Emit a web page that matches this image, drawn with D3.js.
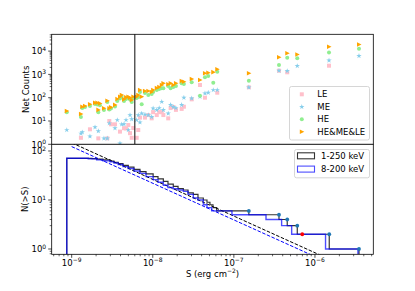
<!DOCTYPE html>
<html>
<head>
<meta charset="utf-8">
<script src="https://cdn.jsdelivr.net/npm/d3@7"></script>
<style>
  body { margin: 0; background: #fff; }
  svg { display: block; font-family: "DejaVu Sans", sans-serif; }
</style>
</head>
<body>
<svg id="chart" width="415" height="291"></svg>
<script>
// burst fluence (erg cm^-2) and net counts per band (null = not detected)
const fluence = [8.7e-10, 1.30e-9, 1.35e-9, 1.46e-9, 1.68e-9, 1.94e-9, 2.07e-9, 2.13e-9, 2.23e-9, 2.50e-9,
  2.75e-9, 2.91e-9, 3.05e-9, 3.42e-9, 3.65e-9, 3.94e-9, 4.14e-9, 4.42e-9, 4.68e-9, 4.99e-9,
  5.24e-9, 5.50e-9, 5.75e-9, 6.33e-9, 6.62e-9, 6.95e-9, 7.30e-9, 8.01e-9, 8.81e-9, 9.69e-9,
  1.01e-8, 1.12e-8, 1.20e-8, 1.29e-8, 1.35e-8, 1.55e-8, 1.66e-8, 1.79e-8, 1.93e-8, 2.27e-8,
  2.42e-8, 3.02e-8, 3.82e-8, 4.40e-8, 4.83e-8, 5.57e-8, 6.24e-8, 1.53e-7, 3.60e-7, 4.55e-7,
  6.05e-7, 1.49e-6, 3.49e-6];
const countsLE = [null, 1.9, null, null, 4.4, null, null, 1.8, null, null,
  1.8, 10, 7.2, 7.2, null, 3.5, null, 4.9, 4.8, 6.7,
  3.0, 1.9, 5.0, 1.9, 4.1, 14, null, 14, 18, 13,
  24, 18, 24, 24, 18, 13, 36, 40, 30, 33,
  41, 85, 351, 100, null, null, 164, 279, 1442, 1230,
  null, 2362, null];
const countsME = [4.1, 2.9, 3.3, null, 2.2, 5.4, null, 3.7, null, 1.8,
  1.8, 8, null, 4.9, 11, 1.1, 7.2, 7.4, 11, 4.1,
  18, 12, null, 11, 18, 8.8, 21, 19, 18, 15,
  35, 30, 36, 67, 30, 21, 49, 40, 36, 49,
  100, 94, 110, 154, 164, 214, 214, 279, 1442, 1400,
  2295, 3970, 6200];
const countsHE = [24, 15, 36, 40, 44, 53, 51, 24, 48, 30,
  65, 31, 34, 42, 72, 92, 107, 72, 88, 97,
  84, 65, 97, 97, 107, 175, 52, 160, 130, 145,
  175, 214, 237, 253, 253, 316, 253, 290, 316, 415,
  390, 458, 122, 751, 854, 440, 1306, 537, 2530, 5210,
  4910, 8700, 12700];
const countsAll = [27, 20, 41, 44, 52, 61, 61, 30, 57, 35,
  74, 35, 39, 49, 88, 110, 131, 85, 104, 110,
  100, 80, 110, 110, 131, 214, 110, 195, 195, 175,
  214, 260, 290, 351, 415, 376, 415, 351, 415, 521,
  486, 635, 575, 1115, 1183, 1250, 1655, 1115, 5420, 8050,
  7100, 15450, 19200];
const cutFluence = 6.0e-9;

// cumulative N(>S): level N[i] holds from S[i] to S[i+1]
const stepAllS = [8.7e-10, 1.78e-9, 2.03e-9, 2.43e-9, 2.97e-9, 3.32e-9, 3.75e-9, 4.29e-9, 4.99e-9, 5.86e-9,
  6.95e-9, 8.25e-9, 1.01e-8, 1.16e-8, 1.35e-8, 1.54e-8, 1.79e-8, 2.05e-8, 2.38e-8, 2.72e-8,
  3.16e-8, 3.61e-8, 4.20e-8, 4.66e-8, 5.07e-8, 5.53e-8, 6.14e-8, 1.53e-7, 3.60e-7, 4.55e-7,
  6.05e-7, 1.50e-6, 3.49e-6];
const stepAllN = [71, 70, 68, 66, 62, 59, 55, 51, 47, 42,
  38, 34, 30, 27, 24, 21, 19, 17, 16, 14,
  13, 11, 10, 9, 8, 7, 6, 5, 4, 3,
  2, 1, 0];
const stepHighS = [8.7e-10, 1.60e-9, 2.03e-9, 2.43e-9, 2.97e-9, 3.32e-9, 3.75e-9, 4.29e-9, 4.99e-9, 5.86e-9,
  6.95e-9, 8.25e-9, 1.01e-8, 1.16e-8, 1.35e-8, 1.54e-8, 1.79e-8, 2.05e-8, 2.38e-8, 2.72e-8,
  3.16e-8, 3.61e-8, 4.20e-8, 4.66e-8, 5.32e-8, 9.47e-8, 2.49e-7, 3.88e-7, 5.16e-7, 1.35e-6,
  3.39e-6];
const stepHighN = [71, 69, 66, 63, 60, 57, 53, 48, 44, 39,
  35, 30, 26, 23, 20, 18, 17, 16, 15, 13,
  11, 10, 8, 7, 6, 5, 4, 3, 2, 1,
  0];
const brightS = [1.53e-7, 3.60e-7, 4.55e-7, 6.05e-7, 1.50e-6, 3.49e-6];
const brightN = [6, 5, 4, 3, 2, 1];
const markedS = [6.97e-7];
const markedN = [2];

// power-law fits (dashed)
const fitS = [1e-9, 5e-6];
const fitAllN = [147, 0.252];
const fitHighN = [123, 0.21];

const xTicks = [1e-9, 1e-8, 1e-7, 1e-6];
const topTicks = [1, 10, 100, 1000, 10000];
const botTicks = [1, 10, 100];

const svg = d3.select('#chart');
const L = 51.7, R = 373.3, T = 34.3, MID = 144.3, B = 254.3;

const x = d3.scaleLog().domain([5.67e-10, 5.24e-6]).range([L, R]);
const yTop = d3.scaleLog().domain([1, 52600]).range([MID, T]);
const yBot = d3.scaleLog().domain([0.78, 137]).range([B, MID]);

const defs = svg.append('defs');
defs.append('clipPath').attr('id', 'clipTop')
  .append('rect').attr('x', L).attr('y', T).attr('width', R - L).attr('height', MID - T);
defs.append('clipPath').attr('id', 'clipBot')
  .append('rect').attr('x', L).attr('y', MID).attr('width', R - L).attr('height', B - MID);

function expLabel(text, v) {
  const p = Math.round(Math.log10(v));
  text.text(null);
  text.append('tspan').text('10');
  text.append('tspan').attr('dy', -3.6).attr('font-size', 6).text(p < 0 ? '\u2212' + (-p) : String(p));
}

function isMajor(v) {
  const l = Math.log10(v);
  return Math.abs(l - Math.round(l)) < 1e-6;
}

function yAxis(scale, majors) {
  const g = svg.append('g').attr('transform', `translate(${L},0)`);
  const minors = scale.ticks().filter(v => !isMajor(v));
  g.selectAll('line.minor').data(minors).join('line')
    .attr('x1', 0).attr('x2', -2).attr('y1', d => scale(d)).attr('y2', d => scale(d))
    .attr('stroke', '#000').attr('stroke-width', 0.6);
  g.selectAll('line.major').data(majors).join('line')
    .attr('x1', 0).attr('x2', -3.5).attr('y1', d => scale(d)).attr('y2', d => scale(d))
    .attr('stroke', '#000').attr('stroke-width', 0.7);
  g.selectAll('text').data(majors).join('text')
    .attr('x', -5.5).attr('y', d => scale(d) + 3.3)
    .attr('text-anchor', 'end').attr('font-size', 8.5).attr('fill', '#000')
    .each(function (d) { expLabel(d3.select(this), d); });
}

function xAxis() {
  const g = svg.append('g').attr('transform', `translate(0,${B})`);
  const minors = x.ticks().filter(v => !isMajor(v));
  g.selectAll('line.minor').data(minors).join('line')
    .attr('x1', d => x(d)).attr('x2', d => x(d)).attr('y1', 0).attr('y2', 2)
    .attr('stroke', '#000').attr('stroke-width', 0.6);
  g.selectAll('line.major').data(xTicks).join('line')
    .attr('x1', d => x(d)).attr('x2', d => x(d)).attr('y1', 0).attr('y2', 3.5)
    .attr('stroke', '#000').attr('stroke-width', 0.7);
  g.selectAll('text').data(xTicks).join('text')
    .attr('x', d => x(d)).attr('y', 11.8)
    .attr('text-anchor', 'middle').attr('font-size', 8.5).attr('fill', '#000')
    .each(function (d) { expLabel(d3.select(this), d); });
}

// ---------- top panel ----------
const topG = svg.append('g').attr('clip-path', 'url(#clipTop)');

function pts(counts) {
  return fluence.map((s, i) => ({ s, c: counts[i] })).filter(d => d.c != null);
}

topG.append('g').selectAll('rect').data(pts(countsLE)).join('rect')
  .attr('x', d => x(d.s) - 2).attr('y', d => yTop(d.c) - 2)
  .attr('width', 4).attr('height', 4).attr('fill', 'pink');

const star = d3.symbol().type(d3.symbolStar).size(9);
topG.append('g').selectAll('path').data(pts(countsME)).join('path')
  .attr('d', star).attr('transform', d => `translate(${x(d.s)},${yTop(d.c)})`)
  .attr('fill', 'skyblue');

topG.append('g').selectAll('circle').data(pts(countsHE)).join('circle')
  .attr('cx', d => x(d.s)).attr('cy', d => yTop(d.c)).attr('r', 2)
  .attr('fill', 'lightgreen');

const triRight = 'M-2,-2.3L2.5,0L-2,2.3Z';
topG.append('g').selectAll('path').data(pts(countsAll)).join('path')
  .attr('d', triRight).attr('transform', d => `translate(${x(d.s)},${yTop(d.c)})`)
  .attr('fill', 'orange');

svg.append('line')
  .attr('x1', x(cutFluence)).attr('x2', x(cutFluence)).attr('y1', T).attr('y2', MID)
  .attr('stroke', '#333').attr('stroke-width', 1.2);

yAxis(yTop, topTicks);

svg.append('rect').attr('x', L).attr('y', T).attr('width', R - L).attr('height', MID - T)
  .attr('fill', 'none').attr('stroke', '#000').attr('stroke-width', 0.8);

// top legend
const lg1 = svg.append('g').attr('transform', 'translate(289.5,86.5)');
lg1.append('rect').attr('width', 80).attr('height', 53.5).attr('rx', 2)
  .attr('fill', '#fff').attr('fill-opacity', 0.8).attr('stroke', '#ccc').attr('stroke-width', 0.8);
const legTop = [
  { label: 'LE', kind: 'sq' },
  { label: 'ME', kind: 'star' },
  { label: 'HE', kind: 'circ' },
  { label: 'HE&ME&LE', kind: 'tri' }
];
legTop.forEach((e, i) => {
  const cy = 7.8 + i * 12.5;
  const mx = 12.3;
  if (e.kind === 'sq') lg1.append('rect').attr('x', mx - 2).attr('y', cy - 2).attr('width', 4).attr('height', 4).attr('fill', 'pink');
  if (e.kind === 'star') lg1.append('path').attr('d', star).attr('transform', `translate(${mx},${cy})`).attr('fill', 'skyblue');
  if (e.kind === 'circ') lg1.append('circle').attr('cx', mx).attr('cy', cy).attr('r', 2).attr('fill', 'lightgreen');
  if (e.kind === 'tri') lg1.append('path').attr('d', triRight).attr('transform', `translate(${mx},${cy})`).attr('fill', 'orange');
  lg1.append('text').attr('x', 27.8).attr('y', cy + 3.1).attr('font-size', 8.5).attr('fill', '#000').text(e.label);
});

// ---------- bottom panel ----------
svg.append('rect').attr('x', L).attr('y', MID).attr('width', R - L).attr('height', B - MID).attr('fill', '#fff');
const botG = svg.append('g').attr('clip-path', 'url(#clipBot)');

const yMin = yBot.domain()[0];
function stepPoints(S, N) {
  const p = [[S[0], yMin]];
  S.forEach((s, i) => p.push([s, Math.max(N[i], yMin)]));
  return p;
}
const stepLine = d3.line().x(d => x(d[0])).y(d => yBot(d[1])).curve(d3.curveStepAfter);
const fitLine = d3.line().x(d => x(d[0])).y(d => yBot(d[1]));

botG.append('path').attr('d', fitLine(fitS.map((s, i) => [s, fitAllN[i]])))
  .attr('fill', 'none').attr('stroke', '#000').attr('stroke-width', 1).attr('stroke-dasharray', '3.5,1.6');
botG.append('path').attr('d', fitLine(fitS.map((s, i) => [s, fitHighN[i]])))
  .attr('fill', 'none').attr('stroke', '#0000ff').attr('stroke-width', 1).attr('stroke-dasharray', '3.5,1.6');

botG.append('path').attr('d', stepLine(stepPoints(stepAllS, stepAllN)))
  .attr('fill', 'none').attr('stroke', '#000').attr('stroke-opacity', 0.8).attr('stroke-width', 1.2);
botG.append('path').attr('d', stepLine(stepPoints(stepHighS, stepHighN)))
  .attr('fill', 'none').attr('stroke', '#0000ff').attr('stroke-opacity', 0.7).attr('stroke-width', 1.4);

botG.append('g').selectAll('circle').data(brightS.map((s, i) => [s, brightN[i]])).join('circle')
  .attr('cx', d => x(d[0])).attr('cy', d => yBot(d[1])).attr('r', 1.9).attr('fill', '#1f77b4');
botG.append('g').selectAll('circle').data(markedS.map((s, i) => [s, markedN[i]])).join('circle')
  .attr('cx', d => x(d[0])).attr('cy', d => yBot(d[1])).attr('r', 1.9).attr('fill', '#ff0000');

yAxis(yBot, botTicks);
xAxis();

svg.append('rect').attr('x', L).attr('y', MID).attr('width', R - L).attr('height', B - MID)
  .attr('fill', 'none').attr('stroke', '#000').attr('stroke-width', 0.8);

// bottom legend
const lg2 = svg.append('g').attr('transform', 'translate(294.5,149.5)');
lg2.append('rect').attr('width', 75).attr('height', 28.3).attr('rx', 2)
  .attr('fill', '#fff').attr('fill-opacity', 0.8).attr('stroke', '#ccc').attr('stroke-width', 0.8);
[{ label: '1-250 keV', color: '#000', op: 0.8 }, { label: '8-200 keV', color: '#0000ff', op: 0.7 }].forEach((e, i) => {
  const cy = 6.3 + i * 13.3;
  lg2.append('rect').attr('x', 3).attr('y', cy - 3).attr('width', 17).attr('height', 6)
    .attr('fill', 'none').attr('stroke', e.color).attr('stroke-opacity', e.op).attr('stroke-width', 1.1);
  lg2.append('text').attr('x', 26.5).attr('y', cy + 3.1).attr('font-size', 8.5).attr('fill', '#000').text(e.label);
});

// axis titles
svg.append('text').attr('transform', `translate(28.5,${(T + MID) / 2}) rotate(-90)`)
  .attr('text-anchor', 'middle').attr('font-size', 8.5).text('Net Counts');
svg.append('text').attr('transform', `translate(27.8,${(MID + B) / 2}) rotate(-90)`)
  .attr('text-anchor', 'middle').attr('font-size', 8.5).text('N(>S)');
const xl = svg.append('text').attr('x', (L + R) / 2).attr('y', 276.5)
  .attr('text-anchor', 'middle').attr('font-size', 8.5);
xl.append('tspan').text('S (erg cm');
xl.append('tspan').attr('dy', -3.6).attr('font-size', 6).text('\u22122');
xl.append('tspan').attr('dy', 3.6).text(')');
</script>
</body>
</html>
